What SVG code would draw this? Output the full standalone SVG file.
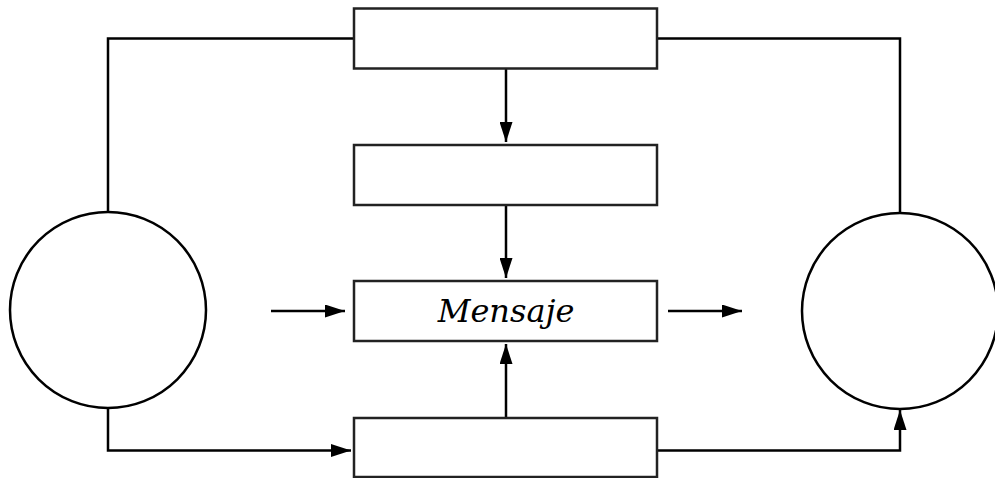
<svg xmlns="http://www.w3.org/2000/svg" width="995" height="478" viewBox="0 0 995 478">
<style>
.box{fill:#fff;stroke:#222;stroke-width:2.5}
.circ{fill:#fff;stroke:#000;stroke-width:2.5}
.ln{fill:none;stroke:#000;stroke-width:2.5}
.lbl{font-family:"DejaVu Serif",serif;font-style:italic;font-size:32px;fill:#000}
</style>
<defs>
<marker id="ah" viewBox="0 0 20 13" refX="20" refY="6.5" markerWidth="20" markerHeight="13" markerUnits="userSpaceOnUse" orient="auto">
<path d="M0,0 L20,6.5 L0,13 Z" fill="#000"/>
</marker>
</defs>
<rect width="995" height="478" fill="#fff"/>
<g id="connectors">
<polyline class="ln" points="354,38.5 108,38.5 108,212"/>
<polyline class="ln" points="657,38.5 900,38.5 900,212"/>
<line class="ln" x1="506" y1="69" x2="506" y2="142" marker-end="url(#ah)"/>
<line class="ln" x1="506" y1="205" x2="506" y2="278" marker-end="url(#ah)"/>
<line class="ln" x1="506" y1="418" x2="506" y2="344" marker-end="url(#ah)"/>
<line class="ln" x1="271" y1="311" x2="345" y2="311" marker-end="url(#ah)"/>
<line class="ln" x1="668" y1="311" x2="742" y2="311" marker-end="url(#ah)"/>
<polyline class="ln" points="108,408 108,450.5 351,450.5" marker-end="url(#ah)"/>
<polyline class="ln" points="657,450.5 900,450.5 900,410" marker-end="url(#ah)"/>
</g>
<g id="circle-left"><circle class="circ" cx="108" cy="310" r="98"/></g>
<g id="circle-right"><circle class="circ" cx="900" cy="311" r="98"/></g>
<g id="box-top"><rect class="box" x="354" y="8.5" width="303" height="60"/></g>
<g id="box-second"><rect class="box" x="354" y="145" width="303" height="60"/></g>
<g id="box-message"><rect class="box" x="354" y="281" width="303" height="60"/>
<text class="lbl" x="506" y="322" text-anchor="middle">Mensaje</text></g>
<g id="box-bottom"><rect class="box" x="354" y="418" width="303" height="59"/></g>
</svg>
